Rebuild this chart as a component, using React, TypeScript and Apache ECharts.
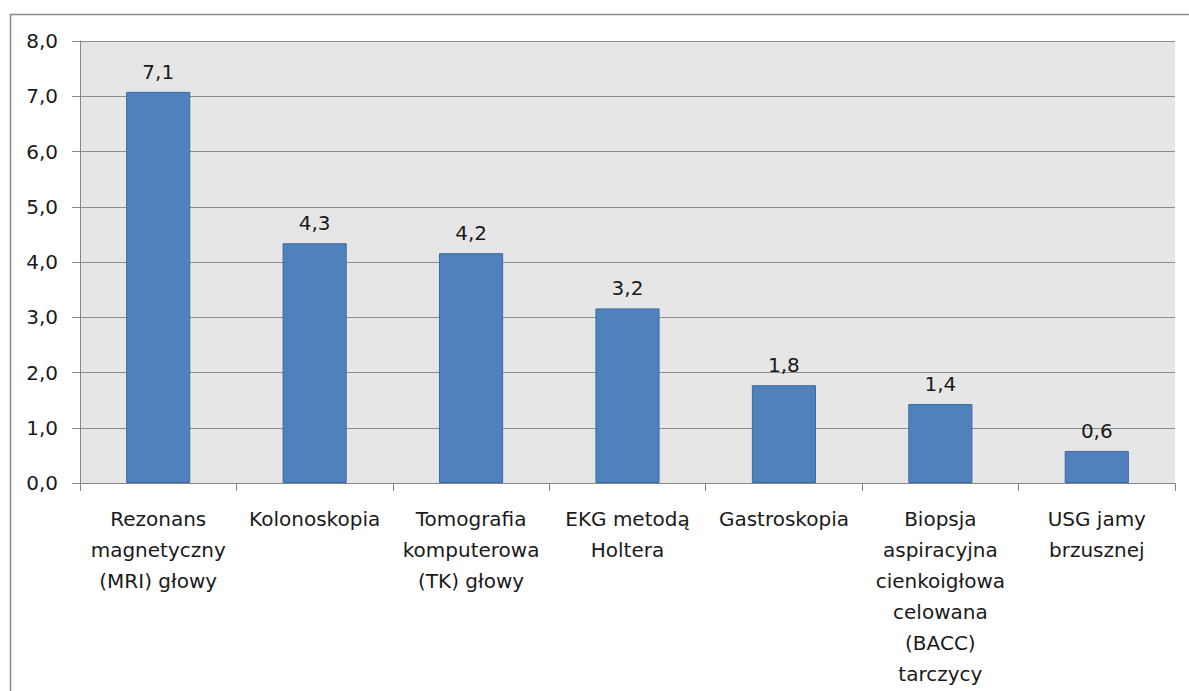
import React, { useEffect, useRef } from "react";
import * as echarts from "echarts";

const categories = [
  "Rezonans\nmagnetyczny\n(MRI) głowy",
  "Kolonoskopia",
  "Tomografia\nkomputerowa\n(TK) głowy",
  "EKG metodą\nHoltera",
  "Gastroskopia",
  "Biopsja\naspiracyjna\ncienkoigłowa\ncelowana\n(BACC)\ntarczycy",
  "USG jamy\nbrzusznej",
];
const values = [7.08, 4.34, 4.16, 3.16, 1.77, 1.43, 0.58];
const yMin = 0;
const yMax = 8;
const yStep = 1;

const FONT = "DejaVu Sans";
const FS = 20;
const fmt = (v: number) => v.toFixed(1).replace(".", ",");

export default function App() {
  const ref = useRef<HTMLDivElement>(null);
  useEffect(() => {
    document.body.style.margin = "0";
    const chart = echarts.init(ref.current!, null, { renderer: "svg" });
    chart.setOption({
      animation: false,
      backgroundColor: "#ffffff",
      textStyle: { fontFamily: FONT },
      graphic: [
        {
          type: "rect",
          shape: { x: 10.5, y: 14.5, width: 1300, height: 800 },
          style: { fill: "none", stroke: "#8a8a8a", lineWidth: 1.5 },
          silent: true,
          z: -10,
        },
      ],
      grid: {
        left: 80,
        right: 14,
        top: 41,
        bottom: 208,
        show: true,
        backgroundColor: "#e6e6e6",
        borderWidth: 0,
      },
      xAxis: {
        type: "category",
        data: categories,
        axisLine: { lineStyle: { color: "#868686", width: 1 } },
        axisTick: { show: true, length: 8, alignWithLabel: false, lineStyle: { color: "#868686" } },
        axisLabel: {
          interval: 0,
          margin: 20,
          color: "#1a1a1a",
          fontSize: FS,
          lineHeight: 31,
          fontFamily: FONT,
        },
      },
      yAxis: {
        type: "value",
        min: yMin,
        max: yMax,
        interval: yStep,
        axisLine: { show: true, lineStyle: { color: "#868686", width: 1 } },
        axisTick: { show: true, length: 8, lineStyle: { color: "#868686" } },
        splitLine: { show: true, lineStyle: { color: "#8c8c8c", width: 1 } },
        axisLabel: {
          margin: 22,
          color: "#1a1a1a",
          fontSize: FS,
          fontFamily: FONT,
          formatter: (v: number) => fmt(v),
        },
      },
      series: [
        {
          type: "bar",
          data: values,
          barWidth: "41%",
          itemStyle: { color: "#4f81bd", borderColor: "#3d6a9e", borderWidth: 1 },
          label: {
            show: true,
            position: "top",
            distance: 10,
            color: "#1a1a1a",
            fontSize: FS,
            fontFamily: FONT,
            formatter: (p: any) => fmt(p.value),
          },
        },
      ],
    });
    return () => chart.dispose();
  }, []);
  return <div ref={ref} style={{ width: 1189, height: 691 }} />;
}
